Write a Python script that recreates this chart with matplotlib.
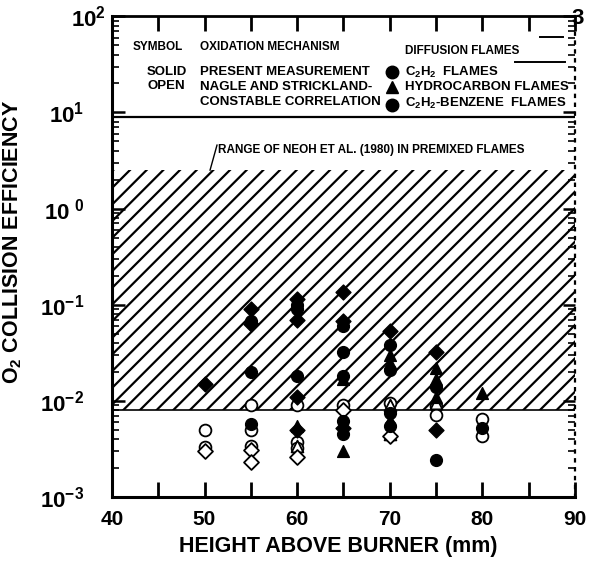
import numpy as np
import matplotlib
matplotlib.use("Agg")
import matplotlib.pyplot as plt
from matplotlib.ticker import FixedLocator, LogLocator, NullFormatter

plt.rcParams['font.family'] = ['Liberation Sans', 'DejaVu Sans']
plt.rcParams['font.weight'] = 'bold'
plt.rcParams['mathtext.fontset'] = 'custom'
plt.rcParams['mathtext.rm'] = 'Liberation Sans:bold'
plt.rcParams['mathtext.bf'] = 'Liberation Sans:bold'
plt.rcParams['mathtext.default'] = 'bf'
plt.rcParams['hatch.linewidth'] = 1.6

# O2 collision efficiency vs. height above burner (mm)
# solid = present measurement, open = Nagle & Strickland-Constable correlation
c2h2_solid_x = [55, 55, 55, 60, 60, 60, 65, 65, 65, 65, 65, 70, 70, 70, 70, 75, 75, 80]
c2h2_solid_y = [0.068, 0.02, 0.0057, 0.10, 0.09, 0.018, 0.06, 0.032, 0.018, 0.0062,
                0.0045, 0.038, 0.021, 0.0075, 0.0055, 0.014, 0.0024, 0.0052]

hc_solid_x = [60, 65, 65, 70, 70, 70, 75, 75, 75, 80]
hc_solid_y = [0.0055, 0.017, 0.003, 0.03, 0.025, 0.0063, 0.022, 0.017, 0.011, 0.012]

benz_solid_x = [50, 55, 55, 60, 60, 60, 60, 65, 65, 65, 70, 75, 75]
benz_solid_y = [0.015, 0.09, 0.063, 0.115, 0.07, 0.011, 0.005, 0.135, 0.068, 0.0052,
                0.053, 0.032, 0.005]

c2h2_open_x = [50, 50, 55, 55, 55, 60, 60, 60, 65, 70, 75, 75, 80, 80]
c2h2_open_y = [0.005, 0.0033, 0.009, 0.005, 0.0034, 0.009, 0.0037, 0.0032, 0.009,
               0.0095, 0.0088, 0.0072, 0.0065, 0.0043]

hc_open_x = [60, 70, 70, 75]
hc_open_y = [0.0034, 0.009, 0.0045, 0.0095]

benz_open_x = [50, 55, 55, 60, 65, 70]
benz_open_y = [0.003, 0.0031, 0.0023, 0.0026, 0.008, 0.0043]

# Neoh et al. (1980) premixed-flame range
neoh_low, neoh_high = 0.008, 2.5

x_ticks = [40, 50, 60, 70, 80, 90]
y_ticks = [1e-3, 1e-2, 1e-1, 1e0, 1e1, 1e2]
y_tick_labels = [r'$10^{-3}$', r'$10^{-2}$', r'$10^{-1}$', r'$10^{\ 0}$', r'$10^{1}$', r'$10^{2}$']

fig = plt.figure(figsize=(5.89, 5.61), dpi=100)
ax = fig.add_axes([0.190, 0.114, 0.786, 0.857])

ax.set_yscale('log')
ax.set_xlim(40, 90)
ax.set_ylim(1e-3, 1e2)

# hatched band
ax.axhspan(neoh_low, neoh_high, facecolor='none', edgecolor='black', hatch='//', linewidth=0)
ax.axhline(neoh_low, color='black', lw=1.2)

ms = 72
ax.scatter(c2h2_open_x, c2h2_open_y, s=ms, marker='o', facecolor='white', edgecolor='black', lw=1.3, zorder=3)
ax.scatter(hc_open_x, hc_open_y, s=ms, marker='^', facecolor='white', edgecolor='black', lw=1.3, zorder=3)
ax.scatter(benz_open_x, benz_open_y, s=ms * 0.8, marker='D', facecolor='white', edgecolor='black', lw=1.3, zorder=3)
ax.scatter(c2h2_solid_x, c2h2_solid_y, s=ms, marker='o', color='black', zorder=4)
ax.scatter(hc_solid_x, hc_solid_y, s=ms, marker='^', color='black', zorder=4)
ax.scatter(benz_solid_x, benz_solid_y, s=ms * 0.8, marker='D', color='black', zorder=4)

# axes frame and ticks
for side in ['left', 'bottom']:
    ax.spines[side].set_linewidth(2.2)
ax.spines['top'].set_linewidth(2.0)
ax.spines['right'].set_linewidth(1.6)
ax.spines['right'].set_linestyle((0, (1, 3)))

ax.xaxis.set_major_locator(FixedLocator(x_ticks))
ax.xaxis.set_minor_locator(FixedLocator(np.arange(45, 90, 10)))
ax.yaxis.set_major_locator(FixedLocator(y_ticks))
ax.yaxis.set_minor_locator(LogLocator(base=10, subs=np.arange(2, 10)))
ax.yaxis.set_minor_formatter(NullFormatter())
ax.set_xticklabels([str(v) for v in x_ticks], fontsize=15, fontweight='bold')
ax.set_yticklabels(y_tick_labels, fontsize=16)

ax.tick_params(axis='x', which='both', direction='in', top=True, length=11, width=2.0, pad=9)
ax.tick_params(axis='y', which='major', direction='in', right=True, length=9, width=1.8, pad=20)
ax.tick_params(axis='y', which='minor', direction='in', right=True, length=5, width=1.2)
# top label sits closer to the frame
ax.yaxis.get_major_ticks()[-1].set_pad(4)

ax.set_xlabel('HEIGHT ABOVE BURNER (mm)', fontsize=15.5, fontweight='bold')
ax.xaxis.set_label_coords(0.488, -0.08)
ax.set_ylabel(r'O$_2$ COLLISION EFFICIENCY', fontsize=15.5, fontweight='bold')
ax.yaxis.set_label_coords(-0.19, 0.53)

# symbol table in the upper band
tr = ax.transAxes
ax.plot([0.0, 1.0], [0.79, 0.79], color='black', lw=1.6, transform=tr)
ax.plot([0.87, 0.978], [0.904, 0.904], color='black', lw=1.4, transform=tr)
ax.plot([0.924, 0.974], [0.956, 0.956], color='black', lw=1.4, transform=tr)

head = dict(fontsize=8.5, fontweight='bold', transform=tr, va='center', ha='left')
body = dict(fontsize=9.5, fontweight='bold', transform=tr, va='center', ha='left')
ax.text(0.045, 0.936, 'SYMBOL', **head)
ax.text(0.19, 0.936, 'OXIDATION MECHANISM', **head)
ax.text(0.633, 0.927, 'DIFFUSION FLAMES', **head)
ax.text(0.076, 0.884, 'SOLID', **body)
ax.text(0.076, 0.854, 'OPEN', **body)
ax.text(0.19, 0.884, 'PRESENT MEASUREMENT', **body)
ax.text(0.19, 0.852, 'NAGLE AND STRICKLAND-', **body)
ax.text(0.19, 0.822, 'CONSTABLE CORRELATION', **body)
ax.text(0.633, 0.884, r'C$_2$H$_2$  FLAMES', **body)
ax.text(0.633, 0.852, 'HYDROCARBON FLAMES', **body)
ax.text(0.633, 0.818, r'C$_2$H$_2$-BENZENE  FLAMES', **body)
for yy, mk in [(0.884, 'o'), (0.853, '^'), (0.815, 'o')]:
    ax.plot([0.605], [yy], marker=mk, color='black', ms=9, transform=tr, clip_on=False)

ax.text(0.23, 0.722, 'RANGE OF NEOH ET AL. (1980) IN PREMIXED FLAMES', fontsize=8.5,
        fontweight='bold', transform=tr, va='center', ha='left')
ax.plot([0.227, 0.212], [0.732, 0.68], color='black', lw=1.0, transform=tr)

fig.text(0.992, 0.967, '3', fontsize=16, fontweight='bold', ha='right', va='center')

fig.savefig('out.png', dpi=100)
